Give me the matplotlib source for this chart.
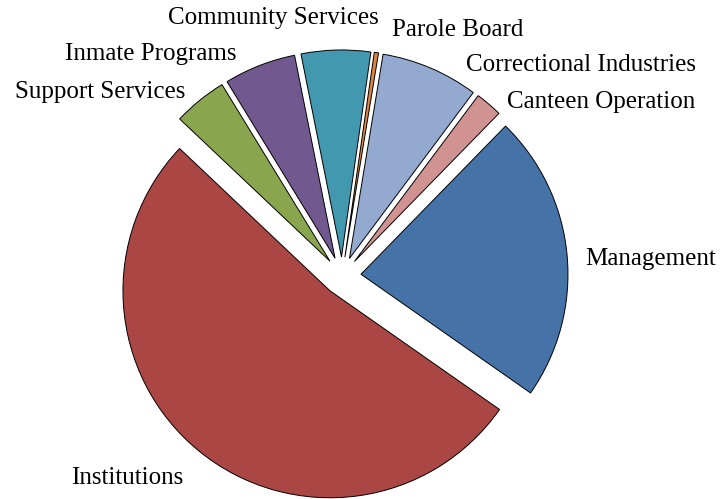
import matplotlib
matplotlib.use('Agg')
import matplotlib.pyplot as plt
import numpy as np

labels = ['Management', 'Institutions', 'Support Services', 'Inmate Programs',
          'Community Services', 'Parole Board', 'Correctional Industries',
          'Canteen Operation']
shares = [22.4, 52.3, 4.2, 5.6, 5.4, 0.33, 7.6, 2.1]
colors = ['#4572A7', '#AA4643', '#89A54E', '#71588F',
          '#4198AF', '#DB843D', '#93A9CF', '#D19392']

# small nudges (data units) so the top labels don't run into each other
nudge = {
    'Management': (0.0, -0.027, None),
    'Institutions': (-0.02, -0.06, None),
    'Canteen Operation': (0.03, -0.055, None),
    'Correctional Industries': (0.135, -0.065, None),
    'Parole Board': (0.06, 0.02, None),
    'Community Services': (-0.3, 0.065, 'center'),
    'Inmate Programs': (-0.08, -0.025, None),
    'Support Services': (-0.015, -0.03, None),
}

plt.rcParams['font.family'] = ['Liberation Serif', 'DejaVu Serif']

fig = plt.figure(figsize=(7.22, 4.99), dpi=100)
ax = fig.add_axes([0, 0, 1, 1])

wedges, texts = ax.pie(shares, labels=labels, colors=colors,
                       explode=[0.092] * len(shares), startangle=45.7,
                       counterclock=False, labeldistance=1.088,
                       wedgeprops=dict(edgecolor='black', linewidth=0.7),
                       textprops=dict(fontsize=18, color='black'))

for t in texts:
    if t.get_text() in nudge:
        dx, dy, ha = nudge[t.get_text()]
        x, y = t.get_position()
        t.set_position((x + dx, y + dy))
        if ha:
            t.set_horizontalalignment(ha)

ax.set_aspect('auto')
ax.set_xlim(-342 / 207, 380 / 207)
ax.set_ylim(-223 / 207, 276 / 207)
ax.axis('off')

fig.savefig('out.png', dpi=100)
